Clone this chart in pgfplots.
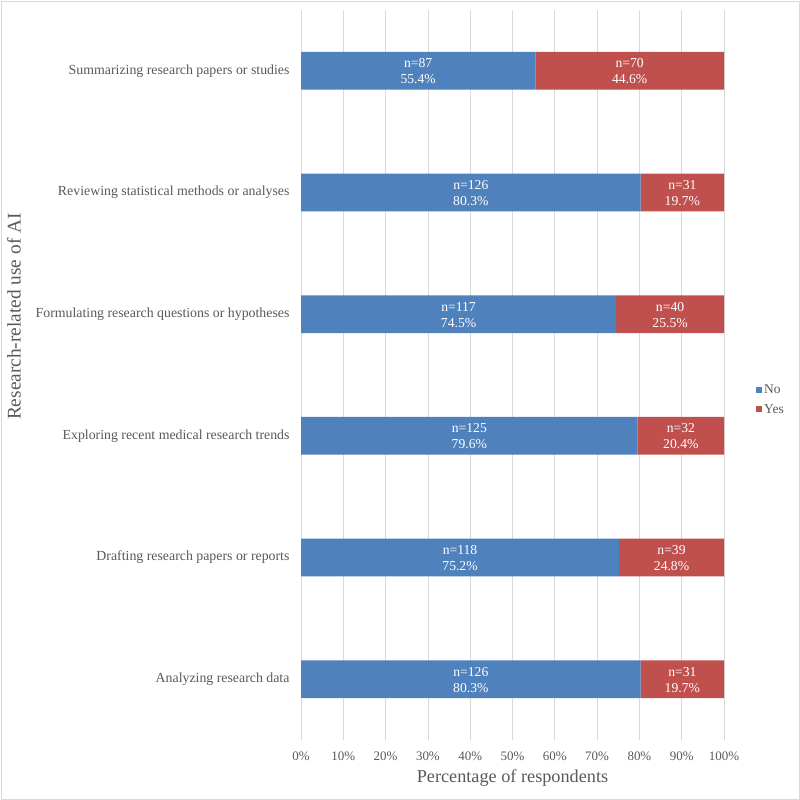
\documentclass[border=0pt]{standalone}
\usepackage{pgfplots}
\usepackage{pgfplotstable}
\pgfplotsset{compat=1.18}
\usepackage{fontspec}
\setmainfont{Liberation Serif}

\definecolor{nocol}{HTML}{4F81BD}
\definecolor{yescol}{HTML}{C0504D}
\definecolor{txt}{HTML}{595959}
\definecolor{gridc}{HTML}{D9D9D9}

% Responses per research task (bottom to top)
\pgfplotstableread{
y nno pno nyes pyes
0 126 80.3 31 19.7
1 118 75.2 39 24.8
2 125 79.6 32 20.4
3 117 74.5 40 25.5
4 126 80.3 31 19.7
5 87 55.4 70 44.6
}\data

\pgfplotsset{
  frame/.style={at={(301bp,60bp)}, anchor=south west,
    scale only axis, width=423bp, height=730bp,
    xmin=0, xmax=100, ymin=-0.5, ymax=5.5},
  barlabel/.style={draw=none, point meta=explicit symbolic,
    every node near coord/.style={anchor=base, text=white,
      font=\fontsize{13.7}{16}\selectfont, yshift=#1}},
}

\begin{document}
\begin{tikzpicture}
\path (0,0) rectangle (800bp,800bp);
\draw[gridc, line width=0.8bp] (1bp,1bp) rectangle (799bp,799bp);
\begin{axis}[
  frame,
  xbar stacked, bar width=0.31,
  axis line style={draw=none},
  major tick length=0,
  xtick={0,10,...,100},
  xticklabel={\pgfmathprintnumber{\tick}\%},
  ytick={0,...,5},
  yticklabels={Analyzing research data,
    Drafting research papers or reports,
    Exploring recent medical research trends,
    Formulating research questions or hypotheses,
    Reviewing statistical methods or analyses,
    Summarizing research papers or studies},
  xmajorgrids, grid style={gridc, line width=0.8bp},
  /pgf/number format/assume math mode=true,
  tick label style={font=\fontsize{13}{15}\selectfont, text=txt},
  xticklabel style={yshift=-8bp},
  yticklabel style={font=\fontsize{13.9}{16}\selectfont, xshift=-8bp},
  xlabel={Percentage of respondents},
  ylabel={Research-related use of AI},
  xlabel style={font=\fontsize{18.3}{21}\selectfont, text=txt,
    at={(axis description cs:0.5,0)}, anchor=center, yshift=-38bp},
  ylabel style={font=\fontsize{19.4}{22}\selectfont, text=txt,
    at={(axis description cs:-0.6785,0.580)}, anchor=center},
  legend style={at={(axis description cs:1,0.466)}, anchor=west, xshift=32bp,
    draw=none, fill=none, font=\fontsize{13.5}{15}\selectfont, text=txt,
    row sep=5bp, inner sep=0pt},
  legend cell align=left,
  legend image code/.code={\fill[#1] (0bp,-3bp) rectangle (6bp,3bp);},
]
\addplot[fill=nocol, draw=none] table[x=pno, y=y] {\data};
\addlegendentry{No}
\addplot[fill=yescol, draw=none] table[x=pyes, y=y] {\data};
\addlegendentry{Yes}
\end{axis}
% Count and share written in the middle of each segment
\begin{axis}[frame, hide axis]
\addplot[barlabel=3bp, nodes near coords={n=\pgfplotspointmeta}]
  table[x expr=\thisrow{pno}/2, y=y, meta=nno] {\data};
\addplot[barlabel=-13bp, nodes near coords={\pgfplotspointmeta\%}]
  table[x expr=\thisrow{pno}/2, y=y, meta=pno] {\data};
\addplot[barlabel=3bp, nodes near coords={n=\pgfplotspointmeta}]
  table[x expr=\thisrow{pno}+\thisrow{pyes}/2, y=y, meta=nyes] {\data};
\addplot[barlabel=-13bp, nodes near coords={\pgfplotspointmeta\%}]
  table[x expr=\thisrow{pno}+\thisrow{pyes}/2, y=y, meta=pyes] {\data};
\end{axis}
\end{tikzpicture}
\end{document}
